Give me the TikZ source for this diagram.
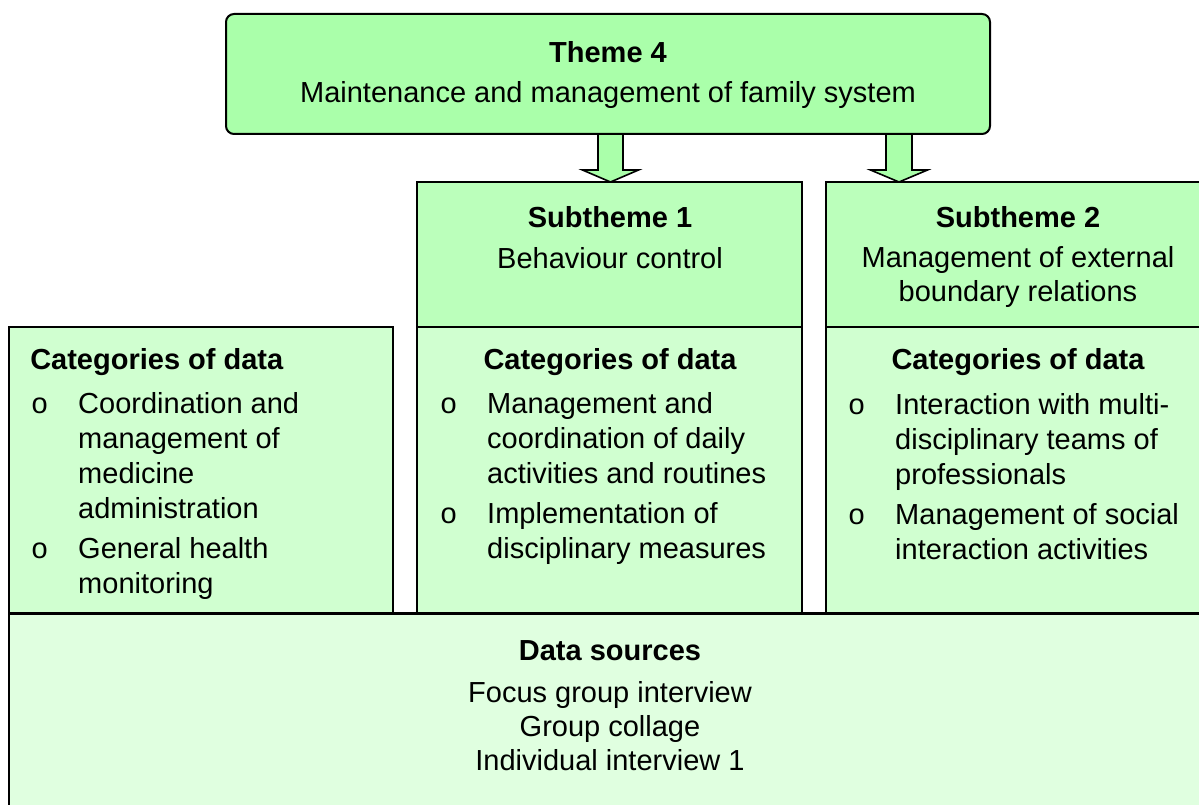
\documentclass[tikz,border=0pt]{standalone}
\usepackage{fontspec}
\setmainfont{Liberation Sans}
\usetikzlibrary{fit,calc,backgrounds}
\pgfdeclarelayer{paper}
\pgfsetlayers{paper,background,main}
\definecolor{cTheme}{HTML}{AAFFAA}
\definecolor{cSub}{HTML}{BBFFBB}
\definecolor{cCat}{HTML}{D0FFD0}
\definecolor{cData}{HTML}{E0FFE0}
\newcommand\bodyfont{\fontsize{21.75}{26.25}\selectfont}
\newcommand\bulletlist[1]{\begin{tabular}[t]{@{}p{35pt}@{}l@{}}#1\end{tabular}}
\begin{document}
\begin{tikzpicture}[x=0.75pt,y=-0.75pt,
  box/.style={draw=black,line width=1.5pt,inner sep=0pt},
  txt/.style={inner sep=0pt,font=\bodyfont},
  hd/.style={inner sep=0pt,font=\bodyfont\bfseries},
  barrow/.style={draw=black,line width=1.2pt,fill=cTheme,line join=miter}]
\useasboundingbox (0,0) rectangle (1199,805);
\begin{pgfonlayer}{paper}
\fill[white] (0,0) rectangle (1199,805);
\end{pgfonlayer}
\clip (0,0) rectangle (1199,805);

% boxes
\node[box,fill=cData,fit={(9,614) (1215,830)}] (data) {};
\node[box,fill=cCat,fit={(9,327) (393,614)}] (cat0) {};
\node[box,fill=cCat,fit={(417,327) (802,614)}] (cat1) {};
\node[box,fill=cCat,fit={(826,327) (1215,614)}] (cat2) {};
\node[box,fill=cSub,fit={(417,182) (802,327)}] (sub1) {};
\node[box,fill=cSub,fit={(826,182) (1215,327)}] (sub2) {};
\node[box,fill=cTheme,rounded corners=6pt,fit={(226,14) (990,134)}] (theme) {};
\draw[line width=1.5pt] (data.north west) -- (data.north east);

% block arrows
\coordinate (tip1) at (610.5,182);
\coordinate (tip2) at (899,182);
\begin{pgfonlayer}{background}
\foreach \t/\s/\h in {tip1/12.5/28, tip2/13/28.5}{
  \draw[barrow] ($(\t|-theme.south)+(-\s,0)$) -- ($(\t)+(-\s,-12)$) -- ($(\t)+(-\h,-12)$)
    -- (\t) -- ($(\t)+(\h,-12)$) -- ($(\t)+(\s,-12)$) -- ($(\t|-theme.south)+(\s,0)$);
}
\end{pgfonlayer}

% theme text
\node[hd,anchor=base] (thT) at (608,63) {Theme 4};
\node[txt,anchor=base] (thS) at (608,103) {Maintenance and management of family system};

% subtheme texts
\node[hd,anchor=base] (s1T) at (610,228) {Subtheme 1};
\node[txt,anchor=base] (s1S) at (610,269) {Behaviour control};
\node[hd,anchor=base] (s2T) at (1018,228) {Subtheme 2};
\node[txt,anchor=base] (s2S) at (1018,268) {Management of external};
\node[txt,anchor=base] (s2S2) at (1018,302) {boundary relations};

% categories
\node[hd,anchor=base west] (c0T) at (30,370) {Categories of data};
\node[hd,anchor=base] (c1T) at (610,370) {Categories of data};
\node[hd,anchor=base] (c2T) at (1018,370) {Categories of data};

\node[txt,anchor=base west] (c0L) at (31.3,413) {\bulletlist{%
  o & Coordination and\\ & management of\\ & medicine\\ & administration\\[4.2pt]
  o & General health\\ & monitoring}};
\node[txt,anchor=base west] (c1L) at (440.3,413) {\bulletlist{%
  o & Management and\\ & coordination of daily\\ & activities and routines\\[4.2pt]
  o & Implementation of\\ & disciplinary measures}};
\node[txt,anchor=base west] (c2L) at (848.3,414) {\bulletlist{%
  o & Interaction with multi-\\ & disciplinary teams of\\ & professionals\\[4.2pt]
  o & Management of social\\ & interaction activities}};

% data sources
\node[hd,anchor=base] (dT) at (610,660) {Data sources};
\node[txt,anchor=base] (d1) at (610,702) {Focus group interview};
\node[txt,anchor=base] (d2) at (610,736) {Group collage};
\node[txt,anchor=base] (d3) at (610,770) {Individual interview 1};
\end{tikzpicture}
\end{document}
